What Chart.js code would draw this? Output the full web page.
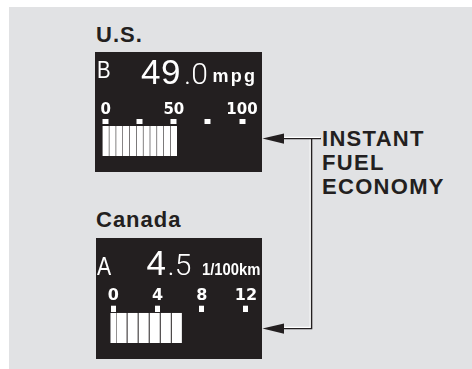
<!DOCTYPE html>
<html>
<head>
<meta charset="utf-8">
<script src="https://cdn.jsdelivr.net/npm/chart.js@4/dist/chart.umd.min.js"></script>
<style>
  body { margin: 0; width: 472px; height: 369px; background: #fff; position: relative; overflow: hidden; font-family: "Liberation Sans", Arial, sans-serif; }
  .abs { position: absolute; white-space: nowrap; line-height: 1; }
  #panel { position: absolute; left: 9px; top: 7px; width: 463px; height: 362px; background: #e1e2e4; }
  .box { position: absolute; background: #231f20; }
  .head { font-weight: bold; font-size: 22px; color: #231f20; letter-spacing: 1px; }
  .lcd { color: #fff; transform-origin: left top; }
  .big { font-size: 35px; }
  .thin { font-family: Roboto, sans-serif; font-weight: 300; font-size: 30px; }
  .unit { font-weight: bold; font-size: 17px; }
  svg { position: absolute; left: 0; top: 0; }
</style>
</head>
<body>
<div id="panel"></div>

<div class="abs head" style="left:96px; top:24.4px;">U.S.</div>
<div class="box" style="left:95px; top:52px; width:167px; height:120px;"><canvas id="usChart"></canvas></div>
<div class="abs lcd" style="left:97px; top:57.7px; font-size:24px; transform:scaleX(0.85);">B</div>
<div class="abs lcd big" style="left:141px; top:54.4px; letter-spacing:0.5px;">49</div>
<div class="abs lcd thin" style="left:184px; top:58.7px;">.0</div>
<div class="abs lcd unit" style="left:212.5px; top:66.8px; font-size:18px; letter-spacing:2.2px;">mpg</div>

<div class="abs head" style="left:96px; top:209.4px;">Canada</div>
<div class="box" style="left:96px; top:238px; width:166px; height:121px;"><canvas id="caChart"></canvas></div>
<div class="abs lcd" style="left:97px; top:253.8px; font-size:25px; transform:scaleX(0.85);">A</div>
<div class="abs lcd big" style="left:146.5px; top:245.4px;">4</div>
<div class="abs lcd thin" style="left:167.5px; top:249.7px;">.5</div>
<div class="abs lcd unit" style="left:201.7px; top:260.6px; transform:scaleX(0.87);">1/100km</div>

<div class="abs head" style="left:322px; top:126.9px; line-height:24.3px; letter-spacing:1.3px;">INSTANT<br>FUEL<br>ECONOMY</div>

<svg width="472" height="369">
  <g stroke="#fff" stroke-width="1.3" fill="none">
    <polyline points="283,137.3 320,137.3" />
    <polyline points="310.3,137.3 310.3,327.3 283,327.3" />
  </g>
  <g stroke="#231f20" stroke-width="1.4" fill="none">
    <polyline points="282,138.6 321,138.6" />
    <polyline points="311.6,138.6 311.6,328.6 282,328.6" />
  </g>
  <g fill="#231f20">
    <polygon points="262.5,138.6 284,133.4 284,143.8" />
    <polygon points="262.5,328.6 284,323.4 284,333.8" />
  </g>
</svg>

<script>
// U.S. gauge (mpg)
const usTicks = [0, 25, 50, 75, 100];
const usTickLabels = [0, 50, 100];
const usBarPositions = [0, 5, 10, 15, 20, 25, 30, 35, 40, 45, 50];
const usBarLevels = [1, 1, 1, 1, 1, 1, 1, 1, 1, 1, 1];

// Canada gauge (l/100km)
const caTicks = [0, 4, 8, 12];
const caTickLabels = [0, 4, 8, 12];
const caStartPositions = [0];
const caStartLevels = [1];
const caBarPositions = [0.75, 1.75, 2.75, 3.75, 4.75, 5.75];
const caBarLevels = [1, 1, 1, 1, 1, 1];

const points = (xs, ys) => xs.map((x, i) => ({ x: x, y: ys[i] }));

function gauge(id, datasets, g) {
  return new Chart(document.getElementById(id), {
    type: "bar",
    data: { datasets: datasets },
    options: {
      responsive: true,
      maintainAspectRatio: false,
      animation: false,
      events: [],
      layout: { padding: g.padding },
      plugins: { legend: { display: false }, tooltip: { enabled: false } },
      scales: {
        x: {
          type: "linear",
          position: "top",
          min: g.min,
          max: g.max,
          offset: false,
          afterBuildTicks: function (scale) {
            scale.ticks = g.ticks.map(function (v) { return { value: v }; });
          },
          ticks: {
            color: "#fff",
            padding: 0,
            autoSkip: false,
            maxRotation: 0,
            font: { family: "DejaVu Sans", weight: "bold", size: g.fontSize },
            callback: function (value) {
              return g.labels.includes(value) ? String(value) : "";
            },
          },
          grid: { offset: false, drawOnChartArea: false, color: "#fff", tickLength: g.tickLength, tickWidth: g.tickWidth },
          border: { display: false },
        },
        y: { display: false, min: 0, max: g.yMax },
      },
    },
  });
}

gauge("usChart", [
  { data: points(usBarPositions, usBarLevels), backgroundColor: "#fff", barThickness: 5.6, clip: false },
], {
  padding: { left: 10.7, right: 20, top: 49, bottom: 16.3 },
  min: 0, max: 100, ticks: usTicks, labels: usTickLabels,
  fontSize: 15, tickLength: 5, tickWidth: 6, yMax: 1.08,
});

gauge("caChart", [
  { data: points(caStartPositions, caStartLevels), backgroundColor: "#fff", barThickness: 5, stack: "gauge", clip: false },
  { data: points(caBarPositions, caBarLevels), backgroundColor: "#fff", barThickness: 9.4, stack: "gauge", clip: false },
], {
  padding: { left: 17.3, right: 16.1, top: 48.5, bottom: 16.3 },
  min: 0, max: 12, ticks: caTicks, labels: caTickLabels,
  fontSize: 16, tickLength: 6, tickWidth: 5, yMax: 1.054,
});
</script>
</body>
</html>
